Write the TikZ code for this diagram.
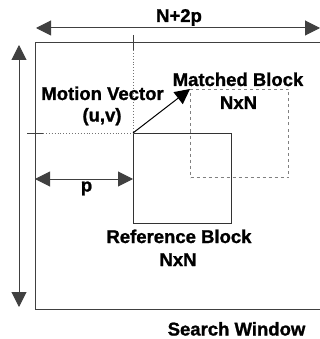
\documentclass[tikz,border=0pt]{standalone}
\usepackage{fontspec}
\setmainfont{Liberation Sans}[UprightFont=* Bold, FakeBold=1.2]
\usetikzlibrary{arrows.meta}
\begin{document}
\begin{tikzpicture}[x=1pt,y=-1pt,
  lbl/.style={font=\fontsize{18.5}{20}\selectfont, anchor=base, inner sep=0pt},
  frame/.style={draw=black!75, line width=1pt},
  bigtip/.tip={Triangle[length=15pt,width=15pt]},
  dim/.style={frame, bigtip-bigtip},
  guide/.style={draw=black!55, line width=0.9pt, dotted},
  block/.style={draw=black!80, line width=1pt, minimum width=98pt, inner sep=0pt, anchor=north west}]
  \useasboundingbox (0,0) rectangle (320,339);
  \clip (0,0) rectangle (320,339);

  % search window (its right side runs off the page)
  \coordinate (swtl) at (35,43);
  \coordinate (swbl) at (35,309);
  \draw[frame] (330,43) -- (swtl) -- (swbl) -- (330,309);

  % overall size arrows
  \coordinate (wl) at (36,28);
  \coordinate (wr) at (320,28);
  \draw[dim] (wl) -- (wr);
  \node[lbl] (wlabel) at (179,22) {N+2p};
  \coordinate (ht) at (19,45);
  \coordinate (hb) at (19,307);
  \draw[dim] (ht) -- (hb);

  % reference and matched blocks
  \node[block, minimum height=90pt] (ref) at (133,133) {};
  \node[block, minimum height=88pt, draw=black!50, dashed] (match) at (190,89) {};

  % position guides of the reference block
  \draw[frame, line width=0.8pt] (133,35) -- (133,50);
  \draw[guide] (133,50) -- (ref.north west);
  \draw[frame, line width=0.8pt] (27,133) -- (43,133);
  \draw[guide] (43,133) -- (ref.north west);

  % motion vector
  \draw[draw=black, line width=1pt, -{Triangle[length=15pt,width=15pt]}] (ref.north west) -- (match.north west);

  % offset p
  \coordinate (pl) at (35,179);
  \coordinate (pr) at (133,179);
  \draw[dim] (pl) -- (pr);
  \node[lbl] (plabel) at (86.5,191.5) {p};

  % labels
  \node[lbl] (mv1) at (102.5,100) {Motion Vector};
  \node[lbl] (mv2) at (102,121.5) {(u,v)};
  \node[lbl] (mb1) at (238,86) {Matched Block};
  \node[lbl] (mb2) at (238.5,109) {NxN};
  \node[lbl] (rb1) at (179,243) {Reference Block};
  \node[lbl] (rb2) at (178,266) {NxN};
  \node[lbl] (sw) at (236.5,335.5) {Search Window};
\end{tikzpicture}
\end{document}
